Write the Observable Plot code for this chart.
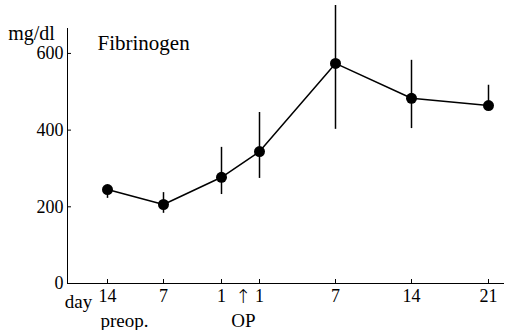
<!DOCTYPE html>
<html>
<head>
<meta charset="utf-8">
<script src="https://cdn.jsdelivr.net/npm/d3@7"></script>
<script src="https://cdn.jsdelivr.net/npm/@observablehq/plot@0.6"></script>
<style>
  html, body { margin: 0; padding: 0; background: #fff; }
  #chart { width: 505px; height: 330px; }
</style>
</head>
<body>
<div id="chart"></div>
<script>
// Days relative to the operation (negative = preoperative)
const days = [-14, -7, -1, 1, 7, 14, 21];
const dayLabels = ["14", "7", "1", "1", "7", "14", "21"];
// Fibrinogen, mg/dl
const means = [245, 206, 277, 344, 574, 483, 464];
const lows  = [222, 183, 232, 274, 402, 404, 458];
const highs = [252, 237, 355, 446, 725, 582, 517];
const yTicks = [0, 200, 400, 600];

const data = days.map((d, i) => ({day: d, mean: means[i], lo: lows[i], hi: highs[i]}));
const labelOf = new Map(days.map((d, i) => [d, dayLabels[i]]));

const chart = Plot.plot({
  width: 505,
  height: 330,
  marginLeft: 67,
  marginRight: 2,
  marginTop: 28,
  marginBottom: 47,
  style: {fontFamily: "Liberation Serif", fontSize: "18px", color: "black", background: "white"},
  x: {
    type: "linear",
    domain: [-18.5, -14, -7, -1, 1, 7, 14, 21, 22.7],
    range: [67, 107, 163, 221, 259, 335, 411, 488, 503],
    ticks: days,
    tickFormat: d => labelOf.get(d),
    tickSize: -4,
    tickPadding: 10,
    line: true,
    label: null
  },
  y: {
    domain: [0, 665],
    ticks: yTicks,
    tickSize: -4,
    tickPadding: 8,
    line: true,
    label: null
  },
  marks: [
    Plot.ruleX(data, {x: "day", y1: "lo", y2: "hi", stroke: "black", strokeWidth: 1.5}),
    Plot.line(data, {x: "day", y: "mean", stroke: "black", strokeWidth: 1.5}),
    Plot.dot(data, {x: "day", y: "mean", r: 5.5, fill: "black", stroke: "none"}),
    Plot.text(["mg/dl"], {frameAnchor: "top-left", dx: -36, dy: -3, textAnchor: "middle", fontSize: 20}),
    Plot.text(["Fibrinogen"], {frameAnchor: "top-left", dx: 30, dy: 7, textAnchor: "start", fontSize: 21}),
    Plot.text(["day"], {x: -14, y: 0, dx: -29, dy: 18, textAnchor: "middle", fontSize: 19}),
    Plot.text(["preop."], {x: -14, y: 0, dx: 17, dy: 37, textAnchor: "middle", fontSize: 19}),
    Plot.text(["↑"], {x: 0, y: 0, dx: 3, dy: 13, textAnchor: "middle", fontSize: 19, fontFamily: "DejaVu Sans", fontWeight: 300}),
    Plot.text(["OP"], {x: 0, y: 0, dx: 3, dy: 37, textAnchor: "middle", fontSize: 19})
  ]
});
document.getElementById("chart").appendChild(chart);
</script>
</body>
</html>
